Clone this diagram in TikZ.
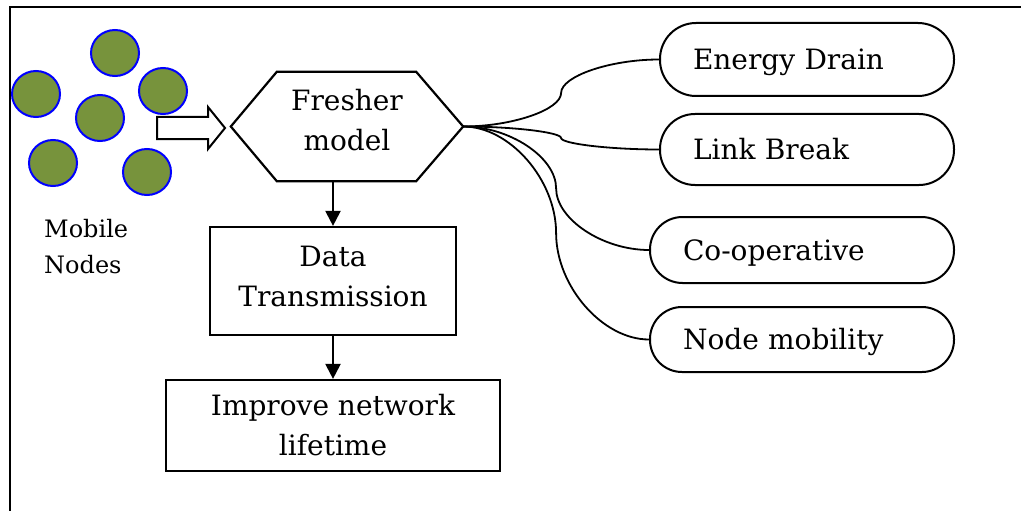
\documentclass[tikz,border=0pt]{standalone}
\usepackage{fontspec}
\setmainfont{DejaVu Serif}
\usetikzlibrary{shapes.geometric,arrows.meta,calc}
\definecolor{nodefill}{HTML}{77933C}
\newcommand\elbowlink[2]{%
  \coordinate (q1) at ($(#1.east)!.25!(#2.west)$);
  \coordinate (qm) at ($(#1.east)!.5!(#2.west)$);
  \coordinate (q3) at ($(#1.east)!.75!(#2.west)$);
  \draw[conn] (#1.east) .. controls (q1 |- #1.east) and (qm |- q1) .. (qm)
     .. controls (qm |- q3) and (q3 |- #2.west) .. (#2.west);}
\begin{document}
\begin{tikzpicture}[x=1pt,y=-1pt,
  every node/.style={font=\fontsize{28}{40}\selectfont},
  mnode/.style={draw=blue, fill=nodefill, line width=2pt, ellipse, minimum width=48pt, minimum height=46pt, inner sep=0pt},
  boxnode/.style={draw, line width=2.2pt, align=center, inner sep=0pt},
  capnode/.style={draw, line width=2pt, rounded corners=#1, align=left, inner xsep=33pt, inner ysep=0pt, text height=20pt, text depth=0pt},
  conn/.style={line width=1.8pt},
  arr/.style={line width=2.2pt, -{Triangle[length=15pt,width=15pt]}},
  frameline/.style={line width=2.5pt}
]
\useasboundingbox (0,0) rectangle (1021,511);
\draw[frameline] (1021,7) -- (10,7) -- (10,511);

% mobile nodes
\node[mnode] (m1) at (115,53) {};
\node[mnode] (m2) at (36,94) {};
\node[mnode] (m3) at (163,91) {};
\node[mnode] (m4) at (100,118) {};
\node[mnode] (m5) at (53,163) {};
\node[mnode] (m6) at (147,172) {};
\node[align=left, anchor=west, inner sep=0pt, font=\fontsize{24}{36}\selectfont] (mlabel) at (44,247) {Mobile\\Nodes};

% block arrow
\draw[line width=2pt, fill=white] (157,117) -- (208,117) -- (208,107) -- (225,128) -- (208,149) -- (208,139) -- (157,139) -- cycle;

% hexagon
\node[minimum width=232pt, minimum height=109pt, align=center, inner sep=0pt] (fresher) at (347,126.5) {Fresher\\model\rule[-14pt]{0pt}{14pt}};
\draw[line width=2.2pt] (fresher.west) -- ([xshift=46pt]fresher.north west) -- ([xshift=-47pt]fresher.north east) -- (fresher.east) -- ([xshift=-47pt]fresher.south east) -- ([xshift=46pt]fresher.south west) -- cycle;

% boxes
\node[boxnode, minimum width=246pt, minimum height=108pt] (data) at (333,281) {Data\\Transmission\rule[-9pt]{0pt}{9pt}};
\node[boxnode, minimum width=334pt, minimum height=91pt] (improve) at (333,425.5) {Improve network\\lifetime\rule[-2pt]{0pt}{2pt}};

\draw[arr] (data.north |- fresher.south) -- (data.north);
\draw[arr] (data.south) -- (improve.north);

% capsules
\node[capnode=36pt, text width=228pt, minimum height=73pt] (energy) at (807,59.5) {Energy Drain};
\node[capnode=35pt, text width=228pt, minimum height=71pt] (link) at (807,149.5) {Link Break};
\node[capnode=32.5pt, text width=238pt, minimum height=66pt] (coop) at (802,250) {Co-operative};
\node[capnode=32pt, text width=238pt, minimum height=65pt] (mobility) at (802,339.5) {Node mobility};

\elbowlink{fresher}{energy}
\elbowlink{fresher}{link}
\elbowlink{fresher}{coop}
\elbowlink{fresher}{mobility}
\end{tikzpicture}
\end{document}
